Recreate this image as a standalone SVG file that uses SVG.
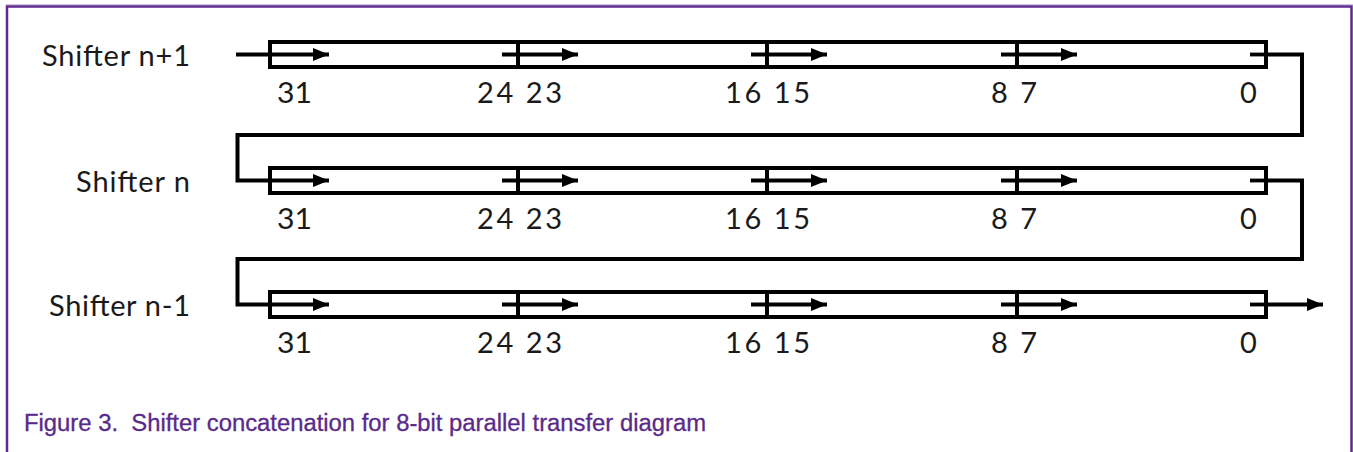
<svg xmlns="http://www.w3.org/2000/svg" width="1353" height="452" viewBox="0 0 1353 452">
<style>
.bx{fill:none;stroke:#000;stroke-width:4}
.ln{fill:none;stroke:#000;stroke-width:4;stroke-linejoin:miter}
.ar{fill:none;stroke:#000;stroke-width:3.8}
.lbl{font-family:Lato,"Liberation Sans",sans-serif;font-size:29px;fill:#1a1a1a}
.num{font-family:Lato,"Liberation Sans",sans-serif;font-size:29px;fill:#1a1a1a}
.cap{font-family:"Liberation Sans",Arial,sans-serif;font-size:23px;fill:#5a2a8a;stroke:#5a2a8a;stroke-width:0.3}
</style>
<defs>
<marker id="ah" markerUnits="userSpaceOnUse" markerWidth="17" markerHeight="15" refX="16" refY="7.5" orient="auto">
<path d="M0,1 L16,7.5 L0,14 Z" fill="#000"/>
</marker>
<g id="reg">
<rect class="bx" x="270" y="42" width="996" height="25"/>
<line class="ar" x1="272" y1="54.5" x2="329" y2="54.5" marker-end="url(#ah)"/>
<line class="ln" x1="518" y1="42" x2="518" y2="67"/>
<line class="ar" x1="502" y1="54.5" x2="578" y2="54.5" marker-end="url(#ah)"/>
<line class="ln" x1="767" y1="42" x2="767" y2="67"/>
<line class="ar" x1="751" y1="54.5" x2="827" y2="54.5" marker-end="url(#ah)"/>
<line class="ln" x1="1017" y1="42" x2="1017" y2="67"/>
<line class="ar" x1="1001" y1="54.5" x2="1077" y2="54.5" marker-end="url(#ah)"/>
<line class="ar" x1="1250" y1="54.5" x2="1266" y2="54.5"/>
<text class="num" x="277" y="103" textLength="35" lengthAdjust="spacingAndGlyphs">31</text>
<text class="num" x="477" y="103" textLength="85">24 23</text>
<text class="num" x="725" y="103" textLength="85">16 15</text>
<text class="num" x="991" y="103" textLength="46">8 7</text>
<text class="num" x="1240" y="103">0</text>
</g>
</defs>
<rect x="0" y="0" width="1353" height="452" fill="#fff"/>
<line x1="6" y1="4.5" x2="1353" y2="4.5" stroke="#cbbfe0" stroke-width="1"/>
<path d="M7,452 V6.5 H1351.5 V452" fill="none" stroke="#5f2a8f" stroke-width="2.5"/>
<g id="shifter-n-plus-1">
<use href="#reg"/>
<text class="lbl" x="42" y="66" textLength="148">Shifter n+1</text>
</g>
<g id="shifter-n">
<use href="#reg" y="126"/>
<text class="lbl" x="76" y="192" textLength="114">Shifter n</text>
</g>
<g id="shifter-n-minus-1">
<use href="#reg" y="250"/>
<text class="lbl" x="49" y="316" textLength="141">Shifter n-1</text>
</g>
<g id="connectors">
<line class="ar" x1="236" y1="54.5" x2="270" y2="54.5"/>
<path class="ln" d="M1266,54.5 H1302 V135 H237.5 V180.5 H270"/>
<path class="ln" d="M1266,180.5 H1302 V259 H237.5 V304.5 H270"/>
<line class="ar" x1="1266" y1="304.5" x2="1323" y2="304.5" marker-end="url(#ah)"/>
</g>
<text class="cap" x="24" y="431" xml:space="preserve" textLength="682" lengthAdjust="spacingAndGlyphs">Figure 3.  Shifter concatenation for 8-bit parallel transfer diagram</text>
</svg>
